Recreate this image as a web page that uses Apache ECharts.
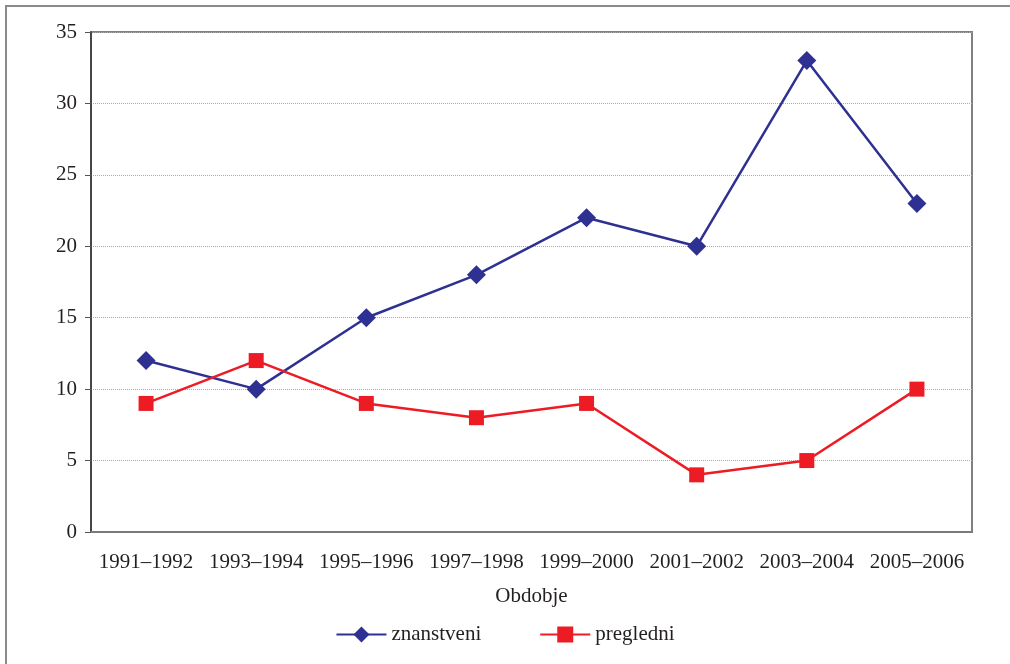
<!DOCTYPE html>
<html>
<head>
<meta charset="utf-8">
<script src="https://cdn.jsdelivr.net/npm/echarts@6/dist/echarts.min.js"></script>
<style>
  html, body { margin: 0; padding: 0; background: #fff; }
  #panel { width: 1010px; height: 664px; }
</style>
</head>
<body>
<div id="panel"></div>
<script>
var periods = ['1991–1992', '1993–1994', '1995–1996', '1997–1998', '1999–2000', '2001–2002', '2003–2004', '2005–2006'];
var znanstveni = [12, 10, 15, 18, 22, 20, 33, 23];
var pregledni = [9, 12, 9, 8, 9, 4, 5, 10];
var yTicks = [0, 5, 10, 15, 20, 25, 30, 35];

var font = '"Liberation Serif", "DejaVu Serif", serif';
var myChart = echarts.init(document.getElementById('panel'));
myChart.setOption({
    backgroundColor: '#fff',
    animation: false,
    textStyle: { fontFamily: font },
    graphic: [{
        type: 'rect',
        shape: { x: 6, y: 6, width: 1200, height: 1000 },
        style: { fill: 'none', stroke: '#8a8a8a', lineWidth: 2 },
        silent: true
    }],
    grid: {
        left: 91, right: 38, top: 32, bottom: 132,
        show: true, borderColor: '#808080', borderWidth: 2
    },
    legend: {
        bottom: 14,
        left: 'center',
        itemGap: 58,
        itemWidth: 50,
        itemHeight: 20,
        textStyle: { fontFamily: font, fontSize: 21, color: '#231f20' },
        data: ['znanstveni', 'pregledni']
    },
    xAxis: {
        type: 'category',
        data: periods,
        boundaryGap: true,
        name: 'Obdobje',
        nameLocation: 'middle',
        nameGap: 54,
        nameTextStyle: { fontFamily: font, fontSize: 21, color: '#231f20' },
        axisLine: { lineStyle: { color: '#7a7a7a', width: 2 } },
        axisTick: { alignWithLabel: true, length: 6, lineStyle: { color: '#444', width: 1 } },
        axisLabel: { fontFamily: font, fontSize: 21, color: '#231f20', margin: 20, interval: 0 }
    },
    yAxis: {
        type: 'value',
        min: yTicks[0],
        max: yTicks[yTicks.length - 1],
        interval: 5,
        axisLine: { show: true, lineStyle: { color: '#333', width: 1.5 } },
        axisTick: { show: true, length: 6, lineStyle: { color: '#555' } },
        axisLabel: { fontFamily: font, fontSize: 21, color: '#231f20', margin: 14 },
        splitLine: { lineStyle: { color: '#aaa', type: [1, 1], width: 1 } }
    },
    series: [{
        name: 'znanstveni',
        type: 'line',
        data: znanstveni,
        symbol: 'diamond',
        symbolSize: 19,
        lineStyle: { color: '#2e3192', width: 2.5 },
        itemStyle: { color: '#2e3192' }
    }, {
        name: 'pregledni',
        type: 'line',
        data: pregledni,
        symbol: 'rect',
        symbolSize: 15,
        lineStyle: { color: '#ed1c24', width: 2.5 },
        itemStyle: { color: '#ed1c24' }
    }]
});
</script>
</body>
</html>
